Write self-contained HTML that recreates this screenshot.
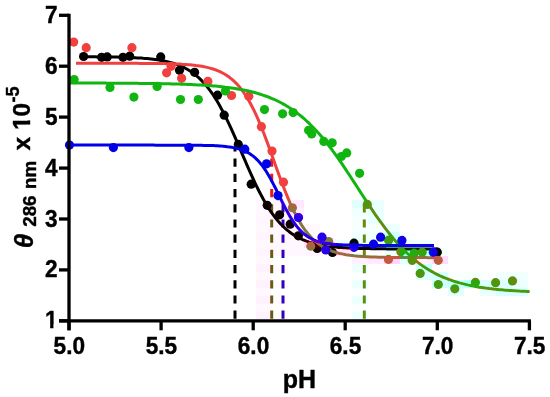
<!DOCTYPE html>
<html><head><meta charset="utf-8"><title>pH titration</title>
<style>
html,body{margin:0;padding:0;background:#fff;}
body{width:550px;height:397px;overflow:hidden;}
svg{display:block;will-change:transform;}
</style></head><body>
<svg width="550" height="397" viewBox="0 0 550 397">
<defs>
<g id="plot">
<line x1="235.0" y1="318.8" x2="235.0" y2="147.0" stroke="#000" stroke-width="3" stroke-dasharray="8.2 7"/>
<line x1="271.7" y1="318.8" x2="271.7" y2="156.0" stroke="#f01414" stroke-width="3" stroke-dasharray="8.2 7"/>
<line x1="283.0" y1="318.8" x2="283.0" y2="203.0" stroke="#1010be" stroke-width="3" stroke-dasharray="8.2 7"/>
<line x1="364.3" y1="318.8" x2="364.3" y2="204.0" stroke="#10b510" stroke-width="3" stroke-dasharray="8.2 7"/>
<g fill="#000000" stroke="none">
<path d="M83.2 56.8 L85.2 56.8 L87.2 56.8 L89.2 56.8 L91.2 56.8 L93.2 56.8 L95.2 56.8 L97.2 56.9 L99.2 56.9 L101.2 56.9 L103.2 56.9 L105.2 56.9 L107.2 57.0 L109.2 57.0 L111.2 57.0 L113.2 57.1 L115.2 57.1 L117.2 57.1 L119.2 57.2 L121.2 57.2 L123.2 57.3 L125.2 57.4 L127.2 57.4 L129.2 57.5 L131.2 57.6 L133.2 57.7 L135.2 57.8 L137.2 57.9 L139.2 58.0 L141.2 58.1 L143.2 58.3 L145.2 58.4 L147.2 58.6 L149.2 58.8 L151.2 59.0 L153.2 59.2 L155.2 59.5 L157.2 59.8 L159.2 60.1 L161.2 60.4 L163.2 60.8 L165.2 61.2 L167.2 61.6 L169.2 62.1 L171.2 62.7 L173.2 63.3 L175.2 63.9 L177.2 64.6 L179.2 65.4 L181.2 66.2 L183.2 67.2 L185.2 68.2 L187.2 69.3 L189.2 70.5 L191.2 71.8 L193.2 73.2 L195.2 74.7 L197.2 76.4 L199.2 78.2 L201.2 80.1 L203.2 82.2 L205.2 84.4 L207.2 86.8 L209.2 89.4 L211.2 92.1 L213.2 95.0 L215.2 98.1 L217.2 101.3 L219.2 104.8 L221.2 108.4 L223.2 112.1 L225.2 116.1 L227.2 120.1 L229.2 124.3 L231.2 128.7 L233.2 133.1 L235.2 137.7 L237.2 142.3 L239.2 146.9 L241.2 151.6 L243.2 156.3 L245.2 160.9 L247.2 165.6 L249.2 170.2 L251.2 174.7 L253.2 179.0 L255.2 183.3 L257.2 187.5 L259.2 191.5 L261.2 195.3 L263.2 199.0 L265.2 202.6 L267.2 205.9 L269.2 209.1 L271.2 212.1 L273.2 214.9 L275.2 217.6 L277.2 220.0 L279.2 222.4 L281.2 224.5 L283.2 226.5 L285.2 228.4 L287.2 230.1 L289.2 231.7 L291.2 233.2 L293.2 234.6 L295.2 235.8 L297.2 237.0 L299.2 238.0 L301.2 239.0 L303.2 239.9 L305.2 240.7 L307.2 241.4 L309.2 242.1 L311.2 242.7 L313.2 243.3 L315.2 243.8 L317.2 244.3 L319.2 244.7 L321.2 245.1 L323.2 245.5 L325.2 245.8 L327.2 246.1 L329.2 246.4 L331.2 246.6 L333.2 246.8 L335.2 247.0 L337.2 247.2 L339.2 247.4 L341.2 247.5 L343.2 247.7 L345.2 247.8 L347.2 247.9 L349.2 248.0 L351.2 248.1 L353.2 248.2 L355.2 248.3 L357.2 248.3 L359.2 248.4 L361.2 248.5 L363.2 248.5 L365.2 248.6 L367.2 248.6 L369.2 248.6 L371.2 248.7 L373.2 248.7 L375.2 248.7 L377.2 248.8 L379.2 248.8 L381.2 248.8 L383.2 248.8 L385.2 248.8 L387.2 248.9 L389.2 248.9 L391.2 248.9 L393.2 248.9 L395.2 248.9 L397.2 248.9 L399.2 248.9 L401.2 248.9 L403.2 248.9 L405.2 249.0 L407.2 249.0 L409.2 249.0 L411.2 249.0 L413.2 249.0 L415.2 249.0 L417.2 249.0 L419.2 249.0 L421.2 249.0 L423.2 249.0 L425.2 249.0 L427.2 249.0 L429.2 249.0 L431.2 249.0 L433.2 249.0 L435.2 249.0 L437.2 249.0 L437.5 249.0" fill="none" stroke="#000000" stroke-width="3.0" stroke-linecap="butt" stroke-linejoin="round"/>
<circle cx="83.6" cy="56.5" r="4.6"/>
<circle cx="101.6" cy="57.3" r="4.6"/>
<circle cx="107.2" cy="56.9" r="4.6"/>
<circle cx="123.0" cy="57.3" r="4.6"/>
<circle cx="129.7" cy="56.2" r="4.6"/>
<circle cx="160.7" cy="56.9" r="4.6"/>
<circle cx="179.5" cy="70.3" r="4.6"/>
<circle cx="194.6" cy="72.3" r="4.6"/>
<circle cx="217.5" cy="95.2" r="4.6"/>
<circle cx="224.2" cy="115.2" r="4.6"/>
<circle cx="238.3" cy="144.4" r="4.6"/>
<circle cx="251.2" cy="184.2" r="4.6"/>
<circle cx="267.2" cy="205.3" r="4.6"/>
<circle cx="279.6" cy="214.8" r="4.6"/>
<circle cx="290.2" cy="224.2" r="4.6"/>
<circle cx="298.4" cy="235.8" r="4.6"/>
<circle cx="317.2" cy="248.4" r="4.6"/>
<circle cx="332.5" cy="252.5" r="4.6"/>
<circle cx="354.0" cy="243.2" r="4.6"/>
<circle cx="437.3" cy="252.2" r="4.6"/>
</g>
<g fill="#f04040" stroke="none">
<path d="M76.0 63.3 L78.0 63.3 L80.0 63.3 L82.0 63.3 L84.0 63.3 L86.0 63.3 L88.0 63.3 L90.0 63.3 L92.0 63.3 L94.0 63.3 L96.0 63.3 L98.0 63.3 L100.0 63.3 L102.0 63.3 L104.0 63.3 L106.0 63.3 L108.0 63.3 L110.0 63.3 L112.0 63.3 L114.0 63.3 L116.0 63.3 L118.0 63.3 L120.0 63.3 L122.0 63.3 L124.0 63.3 L126.0 63.3 L128.0 63.3 L130.0 63.3 L132.0 63.3 L134.0 63.3 L136.0 63.3 L138.0 63.3 L140.0 63.4 L142.0 63.4 L144.0 63.4 L146.0 63.4 L148.0 63.4 L150.0 63.4 L152.0 63.4 L154.0 63.5 L156.0 63.5 L158.0 63.5 L160.0 63.5 L162.0 63.6 L164.0 63.6 L166.0 63.7 L168.0 63.7 L170.0 63.8 L172.0 63.8 L174.0 63.9 L176.0 64.0 L178.0 64.1 L180.0 64.1 L182.0 64.3 L184.0 64.4 L186.0 64.5 L188.0 64.7 L190.0 64.8 L192.0 65.0 L194.0 65.2 L196.0 65.5 L198.0 65.7 L200.0 66.0 L202.0 66.3 L204.0 66.7 L206.0 67.1 L208.0 67.6 L210.0 68.1 L212.0 68.7 L214.0 69.3 L216.0 70.0 L218.0 70.8 L220.0 71.7 L222.0 72.7 L224.0 73.8 L226.0 75.0 L228.0 76.3 L230.0 77.8 L232.0 79.4 L234.0 81.2 L236.0 83.1 L238.0 85.3 L240.0 87.6 L242.0 90.2 L244.0 93.0 L246.0 96.0 L248.0 99.2 L250.0 102.7 L252.0 106.5 L254.0 110.4 L256.0 114.7 L258.0 119.1 L260.0 123.8 L262.0 128.7 L264.0 133.8 L266.0 139.1 L268.0 144.4 L270.0 149.9 L272.0 155.5 L274.0 161.1 L276.0 166.7 L278.0 172.2 L280.0 177.7 L282.0 183.0 L284.0 188.2 L286.0 193.3 L288.0 198.1 L290.0 202.8 L292.0 207.2 L294.0 211.4 L296.0 215.3 L298.0 219.0 L300.0 222.4 L302.0 225.6 L304.0 228.6 L306.0 231.3 L308.0 233.8 L310.0 236.1 L312.0 238.2 L314.0 240.2 L316.0 241.9 L318.0 243.5 L320.0 244.9 L322.0 246.2 L324.0 247.4 L326.0 248.5 L328.0 249.4 L330.0 250.3 L332.0 251.1 L334.0 251.8 L336.0 252.4 L338.0 253.0 L340.0 253.5 L342.0 253.9 L344.0 254.3 L346.0 254.7 L348.0 255.0 L350.0 255.3 L352.0 255.5 L354.0 255.8 L356.0 256.0 L358.0 256.2 L360.0 256.3 L362.0 256.5 L364.0 256.6 L366.0 256.7 L368.0 256.8 L370.0 256.9 L372.0 257.0 L374.0 257.1 L376.0 257.1 L378.0 257.2 L380.0 257.2 L382.0 257.3 L384.0 257.3 L386.0 257.4 L388.0 257.4 L390.0 257.4 L392.0 257.5 L394.0 257.5 L396.0 257.5 L398.0 257.5 L400.0 257.5 L402.0 257.6 L404.0 257.6 L406.0 257.6 L408.0 257.6 L410.0 257.6 L412.0 257.6 L414.0 257.6 L416.0 257.6 L418.0 257.6 L420.0 257.6 L422.0 257.6 L424.0 257.6 L426.0 257.6 L428.0 257.7 L430.0 257.7 L432.0 257.7 L434.0 257.7 L436.0 257.7 L438.0 257.7 L440.0 257.7" fill="none" stroke="#f04040" stroke-width="3.0" stroke-linecap="butt" stroke-linejoin="round"/>
<circle cx="73.7" cy="42.1" r="4.6"/>
<circle cx="86.2" cy="47.7" r="4.6"/>
<circle cx="131.9" cy="47.7" r="4.6"/>
<circle cx="166.6" cy="72.8" r="4.6"/>
<circle cx="171.1" cy="66.3" r="4.6"/>
<circle cx="181.6" cy="78.3" r="4.6"/>
<circle cx="207.9" cy="81.4" r="4.6"/>
<circle cx="231.5" cy="95.5" r="4.6"/>
<circle cx="248.8" cy="96.2" r="4.6"/>
<circle cx="261.4" cy="126.7" r="4.6"/>
<circle cx="272.0" cy="151.0" r="4.6"/>
<circle cx="283.5" cy="182.2" r="4.6"/>
<circle cx="292.4" cy="207.8" r="4.6"/>
<circle cx="310.8" cy="246.2" r="4.6"/>
<circle cx="328.7" cy="241.5" r="4.6"/>
<circle cx="388.5" cy="259.4" r="4.6"/>
<circle cx="438.3" cy="260.3" r="4.6"/>
</g>
<g fill="#10b510" stroke="none">
<path d="M69.5 83.1 L71.5 83.1 L73.5 83.1 L75.5 83.1 L77.5 83.1 L79.5 83.1 L81.5 83.1 L83.5 83.1 L85.5 83.1 L87.5 83.1 L89.5 83.1 L91.5 83.1 L93.5 83.1 L95.5 83.1 L97.5 83.1 L99.5 83.1 L101.5 83.1 L103.5 83.1 L105.5 83.1 L107.5 83.2 L109.5 83.2 L111.5 83.2 L113.5 83.2 L115.5 83.2 L117.5 83.2 L119.5 83.2 L121.5 83.2 L123.5 83.2 L125.5 83.2 L127.5 83.3 L129.5 83.3 L131.5 83.3 L133.5 83.3 L135.5 83.3 L137.5 83.3 L139.5 83.4 L141.5 83.4 L143.5 83.4 L145.5 83.4 L147.5 83.4 L149.5 83.5 L151.5 83.5 L153.5 83.5 L155.5 83.6 L157.5 83.6 L159.5 83.6 L161.5 83.7 L163.5 83.7 L165.5 83.7 L167.5 83.8 L169.5 83.8 L171.5 83.9 L173.5 83.9 L175.5 84.0 L177.5 84.0 L179.5 84.1 L181.5 84.2 L183.5 84.2 L185.5 84.3 L187.5 84.4 L189.5 84.5 L191.5 84.6 L193.5 84.7 L195.5 84.8 L197.5 84.9 L199.5 85.0 L201.5 85.1 L203.5 85.2 L205.5 85.3 L207.5 85.5 L209.5 85.6 L211.5 85.8 L213.5 86.0 L215.5 86.1 L217.5 86.3 L219.5 86.5 L221.5 86.7 L223.5 86.9 L225.5 87.2 L227.5 87.4 L229.5 87.7 L231.5 88.0 L233.5 88.3 L235.5 88.6 L237.5 88.9 L239.5 89.2 L241.5 89.6 L243.5 90.0 L245.5 90.4 L247.5 90.8 L249.5 91.3 L251.5 91.8 L253.5 92.3 L255.5 92.8 L257.5 93.4 L259.5 94.0 L261.5 94.6 L263.5 95.3 L265.5 96.0 L267.5 96.7 L269.5 97.5 L271.5 98.3 L273.5 99.1 L275.5 100.0 L277.5 101.0 L279.5 102.0 L281.5 103.0 L283.5 104.1 L285.5 105.3 L287.5 106.5 L289.5 107.7 L291.5 109.0 L293.5 110.4 L295.5 111.8 L297.5 113.3 L299.5 114.9 L301.5 116.5 L303.5 118.2 L305.5 120.0 L307.5 121.8 L309.5 123.7 L311.5 125.7 L313.5 127.7 L315.5 129.9 L317.5 132.0 L319.5 134.3 L321.5 136.6 L323.5 139.0 L325.5 141.4 L327.5 144.0 L329.5 146.5 L331.5 149.2 L333.5 151.9 L335.5 154.7 L337.5 157.5 L339.5 160.3 L341.5 163.2 L343.5 166.2 L345.5 169.1 L347.5 172.2 L349.5 175.2 L351.5 178.3 L353.5 181.3 L355.5 184.4 L357.5 187.5 L359.5 190.6 L361.5 193.7 L363.5 196.8 L365.5 199.8 L367.5 202.9 L369.5 205.9 L371.5 208.9 L373.5 211.8 L375.5 214.8 L377.5 217.6 L379.5 220.5 L381.5 223.2 L383.5 225.9 L385.5 228.6 L387.5 231.2 L389.5 233.7 L391.5 236.2 L393.5 238.6 L395.5 241.0 L397.5 243.2 L399.5 245.4 L401.5 247.6 L403.5 249.6 L405.5 251.6 L407.5 253.5 L409.5 255.4 L411.5 257.2 L413.5 258.9 L415.5 260.5 L417.5 262.1 L419.5 263.6 L421.5 265.1 L423.5 266.4 L425.5 267.8 L427.5 269.1 L429.5 270.3 L431.5 271.4 L433.5 272.5 L435.5 273.6 L437.5 274.6 L439.5 275.6 L441.5 276.5 L443.5 277.3 L445.5 278.2 L447.5 278.9 L449.5 279.7 L451.5 280.4 L453.5 281.1 L455.5 281.7 L457.5 282.3 L459.5 282.9 L461.5 283.4 L463.5 283.9 L465.5 284.4 L467.5 284.9 L469.5 285.3 L471.5 285.7 L473.5 286.1 L475.5 286.5 L477.5 286.9 L479.5 287.2 L481.5 287.5 L483.5 287.8 L485.5 288.1 L487.5 288.3 L489.5 288.6 L491.5 288.8 L493.5 289.1 L495.5 289.3 L497.5 289.5 L499.5 289.7 L501.5 289.8 L503.5 290.0 L505.5 290.2 L507.5 290.3 L509.5 290.5 L511.5 290.6 L513.5 290.7 L515.5 290.8 L517.5 290.9 L519.5 291.1 L521.5 291.2 L523.5 291.2 L525.5 291.3 L527.5 291.4 L529.5 291.5 L529.6 291.5" fill="none" stroke="#10b510" stroke-width="3.0" stroke-linecap="butt" stroke-linejoin="round"/>
<circle cx="74.1" cy="79.6" r="4.6"/>
<circle cx="110.0" cy="87.4" r="4.6"/>
<circle cx="133.9" cy="97.1" r="4.6"/>
<circle cx="157.1" cy="86.4" r="4.6"/>
<circle cx="180.5" cy="99.5" r="4.6"/>
<circle cx="198.3" cy="99.5" r="4.6"/>
<circle cx="225.4" cy="91.0" r="4.6"/>
<circle cx="264.5" cy="109.6" r="4.6"/>
<circle cx="282.6" cy="113.8" r="4.6"/>
<circle cx="293.1" cy="112.6" r="4.6"/>
<circle cx="308.6" cy="130.3" r="4.6"/>
<circle cx="311.7" cy="133.9" r="4.6"/>
<circle cx="323.8" cy="141.4" r="4.6"/>
<circle cx="332.2" cy="142.8" r="4.6"/>
<circle cx="341.3" cy="156.5" r="4.6"/>
<circle cx="346.7" cy="152.9" r="4.6"/>
<circle cx="359.6" cy="173.3" r="4.6"/>
<circle cx="367.3" cy="204.4" r="4.6"/>
<circle cx="388.6" cy="240.2" r="4.6"/>
<circle cx="400.9" cy="251.7" r="4.6"/>
<circle cx="412.2" cy="260.3" r="4.6"/>
<circle cx="414.2" cy="253.2" r="4.6"/>
<circle cx="422.2" cy="252.2" r="4.6"/>
<circle cx="420.2" cy="273.4" r="4.6"/>
<circle cx="438.3" cy="284.5" r="4.6"/>
<circle cx="454.8" cy="288.8" r="4.6"/>
<circle cx="475.4" cy="282.4" r="4.6"/>
<circle cx="495.6" cy="282.7" r="4.6"/>
<circle cx="512.5" cy="280.9" r="4.6"/>
</g>
<g fill="#0000e8" stroke="none">
<path d="M69.5 145.1 L71.5 145.1 L73.5 145.1 L75.5 145.1 L77.5 145.1 L79.5 145.1 L81.5 145.1 L83.5 145.1 L85.5 145.1 L87.5 145.1 L89.5 145.1 L91.5 145.1 L93.5 145.1 L95.5 145.1 L97.5 145.1 L99.5 145.1 L101.5 145.1 L103.5 145.1 L105.5 145.1 L107.5 145.1 L109.5 145.1 L111.5 145.1 L113.5 145.1 L115.5 145.1 L117.5 145.1 L119.5 145.1 L121.5 145.1 L123.5 145.1 L125.5 145.1 L127.5 145.1 L129.5 145.1 L131.5 145.1 L133.5 145.1 L135.5 145.1 L137.5 145.1 L139.5 145.1 L141.5 145.1 L143.5 145.1 L145.5 145.1 L147.5 145.1 L149.5 145.1 L151.5 145.1 L153.5 145.1 L155.5 145.2 L157.5 145.2 L159.5 145.2 L161.5 145.2 L163.5 145.2 L165.5 145.2 L167.5 145.2 L169.5 145.2 L171.5 145.2 L173.5 145.2 L175.5 145.2 L177.5 145.2 L179.5 145.2 L181.5 145.2 L183.5 145.2 L185.5 145.2 L187.5 145.2 L189.5 145.2 L191.5 145.2 L193.5 145.2 L195.5 145.3 L197.5 145.3 L199.5 145.3 L201.5 145.3 L203.5 145.4 L205.5 145.4 L207.5 145.4 L209.5 145.5 L211.5 145.6 L213.5 145.6 L215.5 145.7 L217.5 145.8 L219.5 145.9 L221.5 146.1 L223.5 146.2 L225.5 146.4 L227.5 146.7 L229.5 146.9 L231.5 147.2 L233.5 147.6 L235.5 148.0 L237.5 148.5 L239.5 149.1 L241.5 149.7 L243.5 150.5 L245.5 151.4 L247.5 152.4 L249.5 153.5 L251.5 154.9 L253.5 156.4 L255.5 158.1 L257.5 160.1 L259.5 162.3 L261.5 164.7 L263.5 167.4 L265.5 170.3 L267.5 173.5 L269.5 176.9 L271.5 180.6 L273.5 184.4 L275.5 188.3 L277.5 192.4 L279.5 196.4 L281.5 200.5 L283.5 204.5 L285.5 208.4 L287.5 212.1 L289.5 215.6 L291.5 218.9 L293.5 221.9 L295.5 224.7 L297.5 227.3 L299.5 229.6 L301.5 231.6 L303.5 233.5 L305.5 235.1 L307.5 236.5 L309.5 237.7 L311.5 238.8 L313.5 239.8 L315.5 240.6 L317.5 241.3 L319.5 241.9 L321.5 242.4 L323.5 242.8 L325.5 243.2 L327.5 243.6 L329.5 243.8 L331.5 244.1 L333.5 244.3 L335.5 244.5 L337.5 244.6 L339.5 244.7 L341.5 244.8 L343.5 244.9 L345.5 245.0 L347.5 245.1 L349.5 245.1 L351.5 245.2 L353.5 245.2 L355.5 245.3 L357.5 245.3 L359.5 245.3 L361.5 245.3 L363.5 245.4 L365.5 245.4 L367.5 245.4 L369.5 245.4 L371.5 245.4 L373.5 245.4 L375.5 245.4 L377.5 245.4 L379.5 245.4 L381.5 245.4 L383.5 245.4 L385.5 245.4 L387.5 245.4 L389.5 245.4 L391.5 245.4 L393.5 245.4 L395.5 245.5 L397.5 245.5 L399.5 245.5 L401.5 245.5 L403.5 245.5 L405.5 245.5 L407.5 245.5 L409.5 245.5 L411.5 245.5 L413.5 245.5 L415.5 245.5 L417.5 245.5 L419.5 245.5 L421.5 245.5 L423.5 245.5 L425.5 245.5 L427.5 245.5 L429.5 245.5 L431.5 245.5 L433.5 245.5 L434.0 245.5" fill="none" stroke="#0000e8" stroke-width="3.0" stroke-linecap="butt" stroke-linejoin="round"/>
<circle cx="69.5" cy="145.1" r="4.6"/>
<circle cx="113.4" cy="147.6" r="4.6"/>
<circle cx="188.9" cy="147.6" r="4.6"/>
<circle cx="244.8" cy="149.2" r="4.6"/>
<circle cx="266.6" cy="163.8" r="4.6"/>
<circle cx="278.0" cy="195.6" r="4.6"/>
<circle cx="298.5" cy="217.5" r="4.6"/>
<circle cx="322.0" cy="237.2" r="4.6"/>
<circle cx="325.8" cy="250.0" r="4.6"/>
<circle cx="354.0" cy="247.3" r="4.6"/>
<circle cx="373.5" cy="244.2" r="4.6"/>
<circle cx="380.6" cy="237.2" r="4.6"/>
<circle cx="401.9" cy="240.4" r="4.6"/>
<circle cx="433.3" cy="252.2" r="4.6"/>
</g>
</g>
<filter id="f0" filterUnits="userSpaceOnUse" x="256" y="200" width="288" height="120" color-interpolation-filters="sRGB"><feColorMatrix type="matrix" values="0.299 0.587 0.114 0 -0.2969 0.357 0.701 -0.058 0 0.1512 0 0 1 0 0 0 0 0 1 0"/></filter>
<clipPath id="c0"><rect x="400" y="248" width="16" height="8"/></clipPath>
<filter id="f1" filterUnits="userSpaceOnUse" x="256" y="200" width="288" height="120" color-interpolation-filters="sRGB"><feColorMatrix type="matrix" values="0.299 0.587 0.114 0 -0.2639 0.357 0.701 -0.058 0 0.1344 0 0 1 0 0 0 0 0 1 0"/></filter>
<clipPath id="c1"><rect x="464" y="280" width="16" height="8"/></clipPath>
<filter id="f2" filterUnits="userSpaceOnUse" x="256" y="200" width="288" height="120" color-interpolation-filters="sRGB"><feColorMatrix type="matrix" values="0.299 0.587 0.114 0 -0.2309 0.357 0.701 -0.058 0 0.1176 0 0 1 0 0 0 0 0 1 0"/></filter>
<clipPath id="c2"><rect x="416" y="248" width="16" height="8"/></clipPath>
<filter id="f3" filterUnits="userSpaceOnUse" x="256" y="200" width="288" height="120" color-interpolation-filters="sRGB"><feColorMatrix type="matrix" values="0.299 0.587 0.114 0 -0.1979 0.357 0.701 -0.058 0 0.1008 0 0 1 0 0 0 0 0 1 0"/></filter>
<clipPath id="c3"><rect x="448" y="280" width="16" height="8"/></clipPath>
<filter id="f4" filterUnits="userSpaceOnUse" x="256" y="200" width="288" height="120" color-interpolation-filters="sRGB"><feColorMatrix type="matrix" values="0.299 0.587 0.114 0 -0.1814 0.357 0.701 -0.058 0 0.0924 0 0 1 0 0 0 0 0 1 0"/></filter>
<clipPath id="c4"><rect x="384" y="232" width="16" height="8"/><rect x="384" y="240" width="16" height="8"/><rect x="416" y="264" width="16" height="8"/><rect x="432" y="280" width="16" height="8"/></clipPath>
<filter id="f5" filterUnits="userSpaceOnUse" x="256" y="200" width="288" height="120" color-interpolation-filters="sRGB"><feColorMatrix type="matrix" values="0.299 0.587 0.114 0 -0.1484 0.357 0.701 -0.058 0 0.0756 0 0 1 0 0 0 0 0 1 0"/></filter>
<clipPath id="c5"><rect x="432" y="272" width="16" height="8"/><rect x="480" y="280" width="16" height="8"/><rect x="496" y="288" width="32" height="8"/></clipPath>
<filter id="f6" filterUnits="userSpaceOnUse" x="256" y="200" width="288" height="120" color-interpolation-filters="sRGB"><feColorMatrix type="matrix" values="0.299 0.587 0.114 0 -0.132 0.357 0.701 -0.058 0 0.0672 0 0 1 0 0 0 0 0 1 0"/></filter>
<clipPath id="c6"><rect x="416" y="272" width="16" height="8"/><rect x="496" y="280" width="16" height="8"/></clipPath>
<filter id="f7" filterUnits="userSpaceOnUse" x="256" y="200" width="288" height="120" color-interpolation-filters="sRGB"><feColorMatrix type="matrix" values="0.299 0.587 0.114 0 -0.1155 0.357 0.701 -0.058 0 0.0588 0 0 1 0 0 0 0 0 1 0"/></filter>
<clipPath id="c7"><rect x="352" y="200" width="16" height="8"/><rect x="448" y="288" width="16" height="8"/></clipPath>
<filter id="f8" filterUnits="userSpaceOnUse" x="256" y="200" width="288" height="120" color-interpolation-filters="sRGB"><feColorMatrix type="matrix" values="0.299 0.587 0.114 0 -0.09896 0.357 0.701 -0.058 0 0.0504 0 0 1 0 0 0 0 0 1 0"/></filter>
<clipPath id="c8"><rect x="400" y="256" width="16" height="8"/></clipPath>
<filter id="f9" filterUnits="userSpaceOnUse" x="256" y="200" width="288" height="120" color-interpolation-filters="sRGB"><feColorMatrix type="matrix" values="0.299 0.587 0.114 0 -0.08247 0.357 0.701 -0.058 0 0.042 0 0 1 0 0 0 0 0 1 0"/></filter>
<clipPath id="c9"><rect x="368" y="200" width="16" height="8"/><rect x="368" y="208" width="16" height="8"/><rect x="368" y="216" width="16" height="8"/><rect x="368" y="240" width="16" height="8"/><rect x="480" y="288" width="16" height="8"/></clipPath>
<filter id="f10" filterUnits="userSpaceOnUse" x="256" y="200" width="288" height="120" color-interpolation-filters="sRGB"><feColorMatrix type="matrix" values="0.299 0.587 0.114 0 -0.06598 0.357 0.701 -0.058 0 0.0336 0 0 1 0 0 0 0 0 1 0"/></filter>
<clipPath id="c10"><rect x="384" y="224" width="16" height="8"/><rect x="352" y="240" width="16" height="8"/><rect x="400" y="240" width="16" height="8"/><rect x="352" y="264" width="16" height="8"/><rect x="352" y="280" width="16" height="8"/><rect x="512" y="280" width="16" height="8"/><rect x="352" y="296" width="16" height="8"/><rect x="352" y="312" width="16" height="7"/></clipPath>
<filter id="f11" filterUnits="userSpaceOnUse" x="256" y="200" width="288" height="120" color-interpolation-filters="sRGB"><feColorMatrix type="matrix" values="0.299 0.587 0.114 0 -0.04948 0.357 0.701 -0.058 0 0.0252 0 0 1 0 0 0 0 0 1 0"/></filter>
<clipPath id="c11"><rect x="352" y="208" width="16" height="8"/><rect x="352" y="232" width="32" height="8"/><rect x="336" y="240" width="16" height="8"/><rect x="416" y="240" width="16" height="8"/><rect x="384" y="248" width="16" height="8"/><rect x="496" y="272" width="32" height="8"/></clipPath>
<filter id="f12" filterUnits="userSpaceOnUse" x="256" y="200" width="288" height="120" color-interpolation-filters="sRGB"><feColorMatrix type="matrix" values="0.299 0.587 0.114 0 -0.03299 0.357 0.701 -0.058 0 0.0168 0 0 1 0 0 0 0 0 1 0"/></filter>
<clipPath id="c12"><rect x="352" y="216" width="16" height="8"/><rect x="352" y="224" width="32" height="8"/><rect x="432" y="248" width="16" height="8"/><rect x="464" y="272" width="16" height="8"/></clipPath>
<filter id="f13" filterUnits="userSpaceOnUse" x="256" y="200" width="288" height="120" color-interpolation-filters="sRGB"><feColorMatrix type="matrix" values="0.299 0.587 0.114 0 -0.01649 0.357 0.701 -0.058 0 0.0084 0 0 1 0 0 0 0 0 1 0"/></filter>
<clipPath id="c13"><rect x="400" y="232" width="16" height="8"/><rect x="400" y="264" width="16" height="8"/><rect x="352" y="272" width="16" height="8"/><rect x="448" y="272" width="16" height="8"/><rect x="480" y="272" width="16" height="8"/><rect x="352" y="288" width="16" height="8"/><rect x="432" y="288" width="16" height="8"/><rect x="528" y="288" width="16" height="8"/><rect x="352" y="304" width="16" height="8"/></clipPath>
<filter id="f14" filterUnits="userSpaceOnUse" x="256" y="200" width="288" height="120" color-interpolation-filters="sRGB"><feColorMatrix type="matrix" values="0.299 0.587 0.114 0 0 0.357 0.701 -0.058 0 -0 0 0 1 0 0 0 0 0 1 0"/></filter>
<clipPath id="c14"><rect x="304" y="200" width="48" height="8"/><rect x="384" y="200" width="160" height="8"/><rect x="304" y="208" width="48" height="8"/><rect x="384" y="208" width="160" height="8"/><rect x="304" y="216" width="48" height="8"/><rect x="384" y="216" width="160" height="8"/><rect x="320" y="224" width="32" height="8"/><rect x="400" y="224" width="144" height="8"/><rect x="336" y="232" width="16" height="8"/><rect x="416" y="232" width="128" height="8"/><rect x="432" y="240" width="112" height="8"/><rect x="448" y="248" width="96" height="8"/><rect x="272" y="256" width="64" height="8"/><rect x="448" y="256" width="96" height="8"/><rect x="288" y="264" width="64" height="8"/><rect x="368" y="264" width="32" height="8"/><rect x="432" y="264" width="112" height="8"/><rect x="272" y="272" width="80" height="8"/><rect x="368" y="272" width="48" height="8"/><rect x="528" y="272" width="16" height="8"/><rect x="288" y="280" width="64" height="8"/><rect x="368" y="280" width="64" height="8"/><rect x="528" y="280" width="16" height="8"/><rect x="272" y="288" width="80" height="8"/><rect x="368" y="288" width="64" height="8"/><rect x="464" y="288" width="16" height="8"/><rect x="288" y="296" width="64" height="8"/><rect x="368" y="296" width="176" height="8"/><rect x="272" y="304" width="80" height="8"/><rect x="368" y="304" width="176" height="8"/><rect x="288" y="312" width="64" height="7"/><rect x="368" y="312" width="176" height="7"/></clipPath>
<filter id="f15" filterUnits="userSpaceOnUse" x="256" y="200" width="288" height="120" color-interpolation-filters="sRGB"><feColorMatrix type="matrix" values="0.299 0.587 0.114 0 0.01649 0.357 0.701 -0.058 0 -0.0084 0 0 1 0 0 0 0 0 1 0"/></filter>
<clipPath id="c15"><rect x="352" y="248" width="32" height="8"/><rect x="336" y="256" width="16" height="8"/></clipPath>
<filter id="f16" filterUnits="userSpaceOnUse" x="256" y="200" width="288" height="120" color-interpolation-filters="sRGB"><feColorMatrix type="matrix" values="0.299 0.587 0.114 0 0.03299 0.357 0.701 -0.058 0 -0.0168 0 0 1 0 0 0 0 0 1 0"/></filter>
<clipPath id="c16"><rect x="304" y="232" width="32" height="8"/><rect x="320" y="248" width="16" height="8"/><rect x="272" y="264" width="16" height="8"/><rect x="272" y="280" width="16" height="8"/><rect x="272" y="296" width="16" height="8"/><rect x="272" y="312" width="16" height="7"/></clipPath>
<filter id="f17" filterUnits="userSpaceOnUse" x="256" y="200" width="288" height="120" color-interpolation-filters="sRGB"><feColorMatrix type="matrix" values="0.299 0.587 0.114 0 0.04948 0.357 0.701 -0.058 0 -0.0252 0 0 1 0 0 0 0 0 1 0"/></filter>
<clipPath id="c17"><rect x="256" y="200" width="32" height="8"/><rect x="256" y="208" width="32" height="8"/><rect x="272" y="216" width="32" height="8"/><rect x="256" y="224" width="64" height="8"/><rect x="272" y="232" width="32" height="8"/><rect x="256" y="240" width="48" height="8"/><rect x="272" y="248" width="32" height="8"/><rect x="256" y="256" width="16" height="8"/><rect x="256" y="272" width="16" height="8"/><rect x="256" y="288" width="16" height="8"/><rect x="256" y="304" width="16" height="8"/></clipPath>
<filter id="f18" filterUnits="userSpaceOnUse" x="256" y="200" width="288" height="120" color-interpolation-filters="sRGB"><feColorMatrix type="matrix" values="0.299 0.587 0.114 0 0.06598 0.357 0.701 -0.058 0 -0.0336 0 0 1 0 0 0 0 0 1 0"/></filter>
<clipPath id="c18"><rect x="256" y="216" width="16" height="8"/><rect x="320" y="240" width="16" height="8"/><rect x="304" y="248" width="16" height="8"/></clipPath>
<filter id="f19" filterUnits="userSpaceOnUse" x="256" y="200" width="288" height="120" color-interpolation-filters="sRGB"><feColorMatrix type="matrix" values="0.299 0.587 0.114 0 0.08247 0.357 0.701 -0.058 0 -0.042 0 0 1 0 0 0 0 0 1 0"/></filter>
<clipPath id="c19"><rect x="256" y="232" width="16" height="8"/><rect x="256" y="248" width="16" height="8"/></clipPath>
<filter id="f20" filterUnits="userSpaceOnUse" x="256" y="200" width="288" height="120" color-interpolation-filters="sRGB"><feColorMatrix type="matrix" values="0.299 0.587 0.114 0 0.09896 0.357 0.701 -0.058 0 -0.0504 0 0 1 0 0 0 0 0 1 0"/></filter>
<clipPath id="c20"><rect x="416" y="256" width="16" height="8"/><rect x="256" y="264" width="16" height="8"/><rect x="256" y="280" width="16" height="8"/><rect x="256" y="296" width="16" height="8"/><rect x="256" y="312" width="16" height="7"/></clipPath>
<filter id="f21" filterUnits="userSpaceOnUse" x="256" y="200" width="288" height="120" color-interpolation-filters="sRGB"><feColorMatrix type="matrix" values="0.299 0.587 0.114 0 0.1155 0.357 0.701 -0.058 0 -0.0588 0 0 1 0 0 0 0 0 1 0"/></filter>
<clipPath id="c21"><rect x="288" y="208" width="16" height="8"/><rect x="352" y="256" width="16" height="8"/></clipPath>
<filter id="f22" filterUnits="userSpaceOnUse" x="256" y="200" width="288" height="120" color-interpolation-filters="sRGB"><feColorMatrix type="matrix" values="0.299 0.587 0.114 0 0.1649 0.357 0.701 -0.058 0 -0.084 0 0 1 0 0 0 0 0 1 0"/></filter>
<clipPath id="c22"><rect x="336" y="248" width="16" height="8"/><rect x="368" y="256" width="16" height="8"/></clipPath>
<filter id="f23" filterUnits="userSpaceOnUse" x="256" y="200" width="288" height="120" color-interpolation-filters="sRGB"><feColorMatrix type="matrix" values="0.299 0.587 0.114 0 0.1814 0.357 0.701 -0.058 0 -0.0924 0 0 1 0 0 0 0 0 1 0"/></filter>
<clipPath id="c23"><rect x="288" y="200" width="16" height="8"/></clipPath>
<filter id="f24" filterUnits="userSpaceOnUse" x="256" y="200" width="288" height="120" color-interpolation-filters="sRGB"><feColorMatrix type="matrix" values="0.299 0.587 0.114 0 0.2144 0.357 0.701 -0.058 0 -0.1092 0 0 1 0 0 0 0 0 1 0"/></filter>
<clipPath id="c24"><rect x="304" y="240" width="16" height="8"/></clipPath>
<filter id="f25" filterUnits="userSpaceOnUse" x="256" y="200" width="288" height="120" color-interpolation-filters="sRGB"><feColorMatrix type="matrix" values="0.299 0.587 0.114 0 0.2639 0.357 0.701 -0.058 0 -0.1344 0 0 1 0 0 0 0 0 1 0"/></filter>
<clipPath id="c25"><rect x="432" y="256" width="16" height="8"/></clipPath>
<filter id="f26" filterUnits="userSpaceOnUse" x="256" y="200" width="288" height="120" color-interpolation-filters="sRGB"><feColorMatrix type="matrix" values="0.299 0.587 0.114 0 0.3134 0.357 0.701 -0.058 0 -0.1596 0 0 1 0 0 0 0 0 1 0"/></filter>
<clipPath id="c26"><rect x="384" y="256" width="16" height="8"/></clipPath>
</defs>
<rect width="550" height="397" fill="#fff"/>
<use href="#plot"/>
<g clip-path="url(#c0)"><g filter="url(#f0)"><rect x="256" y="200" width="288" height="120" fill="#fff"/><use href="#plot"/></g></g>
<g clip-path="url(#c1)"><g filter="url(#f1)"><rect x="256" y="200" width="288" height="120" fill="#fff"/><use href="#plot"/></g></g>
<g clip-path="url(#c2)"><g filter="url(#f2)"><rect x="256" y="200" width="288" height="120" fill="#fff"/><use href="#plot"/></g></g>
<g clip-path="url(#c3)"><g filter="url(#f3)"><rect x="256" y="200" width="288" height="120" fill="#fff"/><use href="#plot"/></g></g>
<g clip-path="url(#c4)"><g filter="url(#f4)"><rect x="256" y="200" width="288" height="120" fill="#fff"/><use href="#plot"/></g></g>
<g clip-path="url(#c5)"><g filter="url(#f5)"><rect x="256" y="200" width="288" height="120" fill="#fff"/><use href="#plot"/></g></g>
<g clip-path="url(#c6)"><g filter="url(#f6)"><rect x="256" y="200" width="288" height="120" fill="#fff"/><use href="#plot"/></g></g>
<g clip-path="url(#c7)"><g filter="url(#f7)"><rect x="256" y="200" width="288" height="120" fill="#fff"/><use href="#plot"/></g></g>
<g clip-path="url(#c8)"><g filter="url(#f8)"><rect x="256" y="200" width="288" height="120" fill="#fff"/><use href="#plot"/></g></g>
<g clip-path="url(#c9)"><g filter="url(#f9)"><rect x="256" y="200" width="288" height="120" fill="#fff"/><use href="#plot"/></g></g>
<g clip-path="url(#c10)"><g filter="url(#f10)"><rect x="256" y="200" width="288" height="120" fill="#fff"/><use href="#plot"/></g></g>
<g clip-path="url(#c11)"><g filter="url(#f11)"><rect x="256" y="200" width="288" height="120" fill="#fff"/><use href="#plot"/></g></g>
<g clip-path="url(#c12)"><g filter="url(#f12)"><rect x="256" y="200" width="288" height="120" fill="#fff"/><use href="#plot"/></g></g>
<g clip-path="url(#c13)"><g filter="url(#f13)"><rect x="256" y="200" width="288" height="120" fill="#fff"/><use href="#plot"/></g></g>
<g clip-path="url(#c14)"><g filter="url(#f14)"><rect x="256" y="200" width="288" height="120" fill="#fff"/><use href="#plot"/></g></g>
<g clip-path="url(#c15)"><g filter="url(#f15)"><rect x="256" y="200" width="288" height="120" fill="#fff"/><use href="#plot"/></g></g>
<g clip-path="url(#c16)"><g filter="url(#f16)"><rect x="256" y="200" width="288" height="120" fill="#fff"/><use href="#plot"/></g></g>
<g clip-path="url(#c17)"><g filter="url(#f17)"><rect x="256" y="200" width="288" height="120" fill="#fff"/><use href="#plot"/></g></g>
<g clip-path="url(#c18)"><g filter="url(#f18)"><rect x="256" y="200" width="288" height="120" fill="#fff"/><use href="#plot"/></g></g>
<g clip-path="url(#c19)"><g filter="url(#f19)"><rect x="256" y="200" width="288" height="120" fill="#fff"/><use href="#plot"/></g></g>
<g clip-path="url(#c20)"><g filter="url(#f20)"><rect x="256" y="200" width="288" height="120" fill="#fff"/><use href="#plot"/></g></g>
<g clip-path="url(#c21)"><g filter="url(#f21)"><rect x="256" y="200" width="288" height="120" fill="#fff"/><use href="#plot"/></g></g>
<g clip-path="url(#c22)"><g filter="url(#f22)"><rect x="256" y="200" width="288" height="120" fill="#fff"/><use href="#plot"/></g></g>
<g clip-path="url(#c23)"><g filter="url(#f23)"><rect x="256" y="200" width="288" height="120" fill="#fff"/><use href="#plot"/></g></g>
<g clip-path="url(#c24)"><g filter="url(#f24)"><rect x="256" y="200" width="288" height="120" fill="#fff"/><use href="#plot"/></g></g>
<g clip-path="url(#c25)"><g filter="url(#f25)"><rect x="256" y="200" width="288" height="120" fill="#fff"/><use href="#plot"/></g></g>
<g clip-path="url(#c26)"><g filter="url(#f26)"><rect x="256" y="200" width="288" height="120" fill="#fff"/><use href="#plot"/></g></g>
<g stroke="#000" stroke-width="3.3" fill="none" stroke-linecap="butt">
<path d="M69 13.8 V330.3"/>
<path d="M59 320.8 H530.9"/>
<path d="M59 320.8 H69"/>
<path d="M59 269.9 H69"/>
<path d="M59 219.0 H69"/>
<path d="M59 168.1 H69"/>
<path d="M59 117.1 H69"/>
<path d="M59 66.2 H69"/>
<path d="M59 15.3 H69"/>
<path d="M69.0 320.8 V330.3"/>
<path d="M161.1 320.8 V330.3"/>
<path d="M253.2 320.8 V330.3"/>
<path d="M345.2 320.8 V330.3"/>
<path d="M437.3 320.8 V330.3"/>
<path d="M529.4 320.8 V330.3"/>
</g>
<g font-family="Liberation Sans, Arial, sans-serif" font-weight="bold" fill="#000" stroke="#000" stroke-width="0.4" stroke-linejoin="round">
<text transform="translate(57.5 328.3) scale(1 1.04)" font-size="22.6" text-anchor="end">1</text>
<text transform="translate(57.5 277.4) scale(1 1.04)" font-size="22.6" text-anchor="end">2</text>
<text transform="translate(57.5 226.5) scale(1 1.04)" font-size="22.6" text-anchor="end">3</text>
<text transform="translate(57.5 175.6) scale(1 1.04)" font-size="22.6" text-anchor="end">4</text>
<text transform="translate(57.5 124.6) scale(1 1.04)" font-size="22.6" text-anchor="end">5</text>
<text transform="translate(57.5 73.7) scale(1 1.04)" font-size="22.6" text-anchor="end">6</text>
<text transform="translate(57.5 22.8) scale(1 1.04)" font-size="22.6" text-anchor="end">7</text>
<text transform="translate(69.3 354) scale(1 1.04)" font-size="22.6" text-anchor="middle">5.0</text>
<text transform="translate(161.4 354) scale(1 1.04)" font-size="22.6" text-anchor="middle">5.5</text>
<text transform="translate(253.5 354) scale(1 1.04)" font-size="22.6" text-anchor="middle">6.0</text>
<text transform="translate(345.5 354) scale(1 1.04)" font-size="22.6" text-anchor="middle">6.5</text>
<text transform="translate(437.6 354) scale(1 1.04)" font-size="22.6" text-anchor="middle">7.0</text>
<text transform="translate(529.7 354) scale(1 1.04)" font-size="22.6" text-anchor="middle">7.5</text>
<text x="299.5" y="387.9" font-size="25" text-anchor="middle">pH</text>
<text transform="translate(32.7 248.2) rotate(-90)" font-size="26" font-style="italic">θ</text>
<text transform="translate(36.4 226.8) rotate(-90)" font-size="18.8">286</text>
<text transform="translate(36.4 189) rotate(-90)" font-size="18.8">nm</text>
<text transform="translate(30.2 150.5) rotate(-90)" font-size="24.5">x 10</text>
<text transform="translate(18.9 102.4) rotate(-90)" font-size="18">-5</text>
</g>
<g fill="#fff"><rect x="45" y="324.6" width="5.15" height="5.2"/><rect x="53.45" y="324.6" width="4.3" height="5.2"/><rect x="26.6" y="115.3" width="4.6" height="5.1"/><rect x="26.6" y="124.6" width="4.6" height="5"/></g>
</svg>
</body></html>
